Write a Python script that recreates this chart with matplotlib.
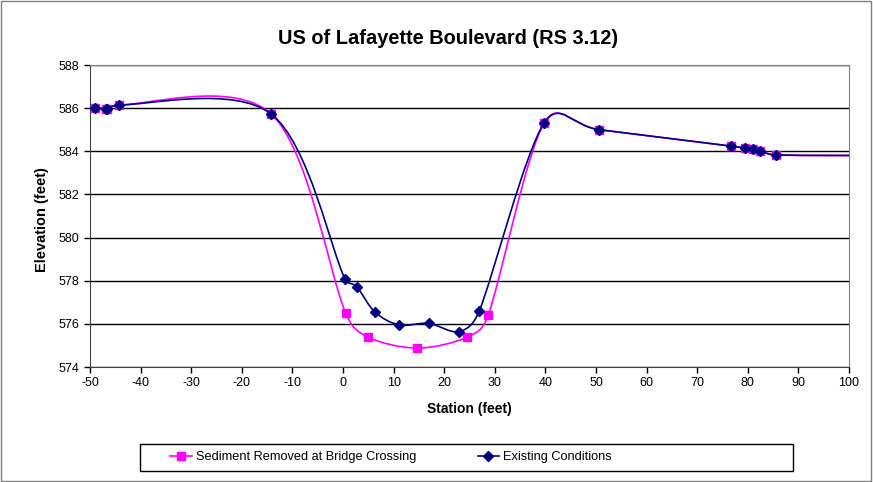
import numpy as np
import matplotlib
matplotlib.use("Agg")
import matplotlib.pyplot as plt
from matplotlib.path import Path
from matplotlib.patches import PathPatch, Rectangle
from matplotlib.lines import Line2D

plt.rcParams['font.family'] = ['Liberation Sans', 'DejaVu Sans']
plt.rcParams['axes.unicode_minus'] = False

# station / elevation, existing conditions
exist_x = [-52, -49.0, -46.8, -46.6, -44.3, -14.2, 0.4, 2.8, 6.3, 11.1, 16.9, 22.9, 26.9,
           39.8, 50.65, 76.7, 79.4, 81.0, 82.5, 85.6, 110]
exist_y = [586.0, 586.0, 585.96, 585.94, 586.15, 585.73, 578.08, 577.7, 576.55, 575.95, 576.02,
           575.64, 576.58, 585.33, 585.0, 584.24, 584.15, 584.09, 584.0, 583.83, 583.8]

# sediment removed at bridge crossing
sed_x = [-52, -49.0, -46.8, -46.6, -44.3, -14.2, 0.5, 5.0, 14.7, 24.5, 28.7,
         39.8, 50.65, 76.7, 79.4, 81.0, 82.5, 85.6, 110]
sed_y = [586.0, 586.0, 585.96, 585.94, 586.15, 585.73, 576.52, 575.38, 574.88, 575.38, 576.41,
         585.33, 585.0, 584.24, 584.15, 584.09, 584.0, 583.83, 583.8]


def smooth_path(ax, xs, ys):
    # excel-like smoothed line: bezier through the points, worked out in pixels
    pts = ax.transData.transform(np.column_stack([xs, ys]).astype(float))
    n = len(pts)
    verts = [pts[0]]
    codes = [Path.MOVETO]
    for i in range(n - 1):
        p0 = pts[i - 1] if i > 0 else pts[i]
        p1 = pts[i]
        p2 = pts[i + 1]
        p3 = pts[i + 2] if i + 2 < n else p2
        d12 = np.hypot(*(p2 - p1))
        d02 = np.hypot(*(p2 - p0))
        d13 = np.hypot(*(p3 - p1))
        f1 = 1 / 6 if d02 == 0 else min(1 / 6, d12 / 2 / d02)
        f2 = 1 / 6 if d13 == 0 else min(1 / 6, d12 / 2 / d13)
        verts += [p1 + (p2 - p0) * f1, p2 - (p3 - p1) * f2, p2]
        codes += [Path.CURVE4] * 3
    verts = ax.transData.inverted().transform(np.array(verts))
    return Path(verts, codes)


fig = plt.figure(figsize=(8.73, 4.82), dpi=100)
fig.add_artist(Rectangle((0.001, 0.002), 0.997, 0.996, transform=fig.transFigure,
                         fill=False, edgecolor='#808080', lw=1))
ax = fig.add_axes([90 / 873, 1 - 367 / 482, 759 / 873, 302 / 482])

magenta = '#FF00FF'
navy = '#000080'

ax.set_xlim(-50, 100)
ax.set_ylim(574, 588)

ax.add_patch(PathPatch(smooth_path(ax, sed_x, sed_y), fill=False, edgecolor=magenta, lw=1.2, zorder=3))
ax.plot(sed_x, sed_y, ls='none', marker='s', ms=6, color=magenta, zorder=4)
ax.add_patch(PathPatch(smooth_path(ax, exist_x, exist_y), fill=False, edgecolor=navy, lw=1.2, zorder=5))
ax.plot(exist_x, exist_y, ls='none', marker='D', ms=4.8, color=navy, zorder=6)

ax.set_xticks(np.arange(-50, 101, 10))
ax.set_yticks(np.arange(574, 589, 2))
ax.yaxis.grid(True, color='black', lw=1)
ax.set_axisbelow(True)
for s in ['top', 'right']:
    ax.spines[s].set_color('#808080')
for s in ['left', 'bottom']:
    ax.spines[s].set_color('#404040')
ax.tick_params(direction='out', length=4, labelsize=9, colors='black', width=1)

ax.set_xlabel('Station (feet)', fontsize=10, fontweight='bold', labelpad=9)
fig.text(41.7 / 873, 1 - 220 / 482, 'Elevation (feet)', rotation=90, ha='center', va='center',
         fontsize=10.5, fontweight='bold')
fig.text(448 / 873, 1 - 38 / 482, 'US of Lafayette Boulevard (RS 3.12)', ha='center', va='center',
         fontsize=14.4, fontweight='bold')

handles = [Line2D([], [], color=magenta, marker='s', ms=6, lw=1.2),
           Line2D([], [], color=navy, marker='D', ms=4.8, lw=1.2)]
leg = fig.legend(handles, ['Sediment Removed at Bridge Crossing', 'Existing Conditions'],
                 loc='center', bbox_to_anchor=(391 / 873, 1 - 457 / 482), ncol=2,
                 fontsize=9.2, frameon=False,
                 handlelength=1.7, handletextpad=0.3, columnspacing=4.8)
fig.add_artist(Rectangle((140 / 873, 1 - 471 / 482), 653 / 873, 27 / 482,
                         transform=fig.transFigure, fill=False, edgecolor='black', lw=1))

fig.savefig('out.png', dpi=100)
